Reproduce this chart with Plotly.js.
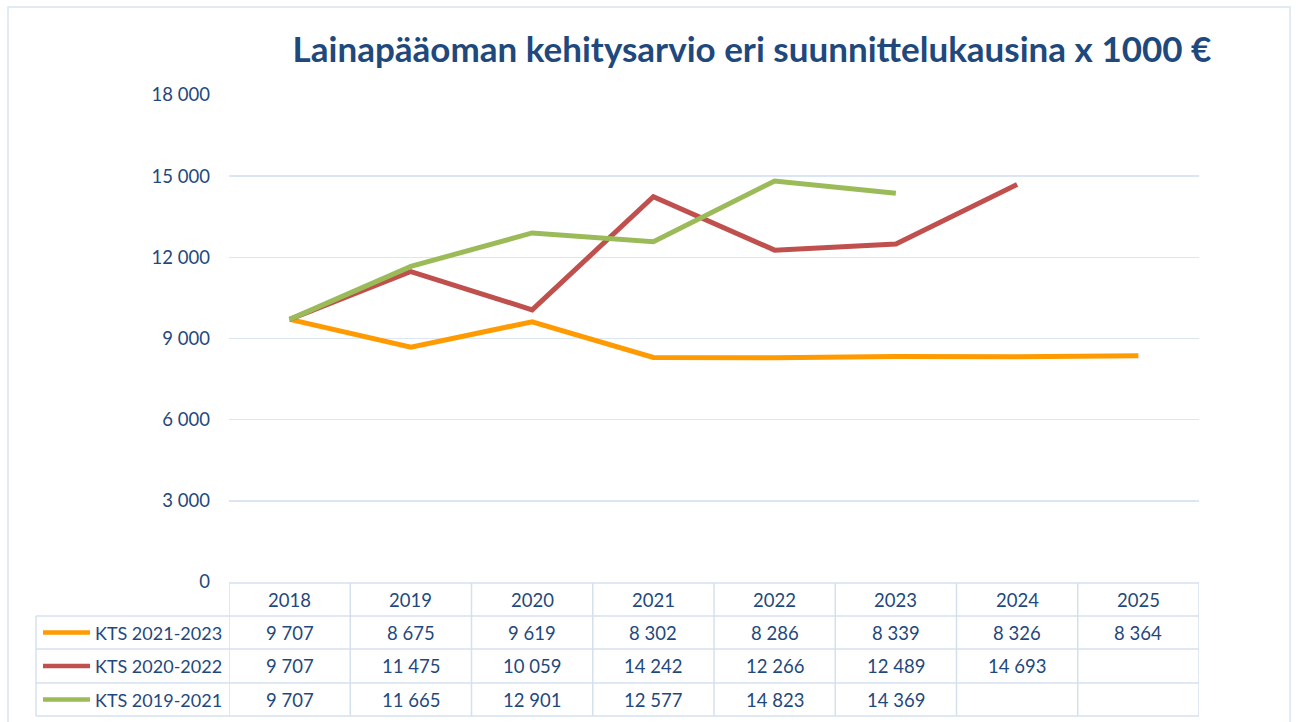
<!DOCTYPE html>
<html>
<head>
<meta charset="utf-8">
<script src="https://cdn.plot.ly/plotly-3.0.1.min.js"></script>
<style>html,body{margin:0;padding:0;background:#fff;}#chart{width:1297px;height:722px;}</style>
</head>
<body>
<div id="chart"></div>
<script>
const years = ['2018','2019','2020','2021','2022','2023','2024','2025'];
const seriesNames = ['KTS 2021-2023','KTS 2020-2022','KTS 2019-2021'];
const kts2021 = [9707, 8675, 9619, 8302, 8286, 8339, 8326, 8364];
const kts2020 = [9707, 11475, 10059, 14242, 12266, 12489, 14693];
const kts2019 = [9707, 11665, 12901, 12577, 14823, 14369];
const yTicks = [0, 3000, 6000, 9000, 12000, 15000, 18000];
const colors = ['#FF9A00', '#C0504D', '#9BBB59'];

const W = 1297, H = 722;
const M = {l: 229, r: 98, t: 95, b: 140};
const PW = W - M.l - M.r, PH = H - M.t - M.b;
const px2x = X => (X - M.l) / PW;
const px2y = Y => (H - M.b - Y) / PH;

const fmt = v => String(v).replace(/\B(?=(\d{3})+(?!\d))/g, ' ');
const txtColor = '#1F497D';
const gridColor = '#DCE6F2';
const font = 'Lato, "Open Sans", sans-serif';
const numSize = 18.5;

const allSeries = [kts2021, kts2020, kts2019];
const traces = allSeries.map((vals, i) => ({
  type: 'scatter', mode: 'lines',
  x: years.slice(0, vals.length), y: vals,
  name: seriesNames[i],
  line: {color: colors[i], width: 5},
  showlegend: false, hoverinfo: 'x+y'
}));
const shapes = [];
const annotations = [];

// outer border
shapes.push({type: 'rect', xref: 'paper', yref: 'paper',
  x0: px2x(8), x1: px2x(1290), y0: px2y(730), y1: px2y(7),
  line: {color: '#D9E3F0', width: 1.5}, layer: 'below'});

// table geometry (pixels)
const rowTops = [583, 616, 649, 683, 716];
const colEdges = [];
for (let i = 0; i <= years.length; i++) colEdges.push(-0.5 + i);
const tblLeft = 36;
const lineCol = '#D5E0EF';

rowTops.forEach((Y, idx) => {
  shapes.push({type: 'line', xref: 'paper', yref: 'paper',
    x0: idx === 0 ? 0 : px2x(tblLeft), x1: 1, y0: px2y(Y), y1: px2y(Y),
    line: {color: lineCol, width: 1.5}});
});
colEdges.forEach(c => {
  shapes.push({type: 'line', xref: 'x', yref: 'paper',
    x0: c, x1: c, y0: px2y(rowTops[0]), y1: px2y(rowTops[4]),
    line: {color: lineCol, width: 1.5}});
});
shapes.push({type: 'line', xref: 'paper', yref: 'paper',
  x0: px2x(tblLeft), x1: px2x(tblLeft), y0: px2y(rowTops[1]), y1: px2y(rowTops[4]),
  line: {color: lineCol, width: 1.5}});

years.forEach((yr, j) => {
  annotations.push({xref: 'x', yref: 'paper', x: j, y: px2y((rowTops[0] + rowTops[1]) / 2),
    text: yr, showarrow: false, font: {family: font, size: numSize, color: txtColor},
    xanchor: 'center', yanchor: 'middle'});
});

allSeries.forEach((vals, i) => {
  const yc = px2y((rowTops[i + 1] + rowTops[i + 2]) / 2);
  shapes.push({type: 'line', xref: 'paper', yref: 'paper',
    x0: px2x(43), x1: px2x(90), y0: yc, y1: yc,
    line: {color: colors[i], width: 4.5}});
  annotations.push({xref: 'paper', yref: 'paper', x: px2x(93), y: yc,
    text: seriesNames[i], showarrow: false, xanchor: 'left', yanchor: 'middle',
    font: {family: font, size: 18, color: txtColor}});
  vals.forEach((v, j) => {
    annotations.push({xref: 'x', yref: 'paper', x: j, y: yc, text: fmt(v),
      showarrow: false, xanchor: 'center', yanchor: 'middle',
      font: {family: font, size: numSize, color: txtColor}});
  });
});

const layout = {
  width: W, height: H,
  margin: M,
  paper_bgcolor: '#ffffff', plot_bgcolor: '#ffffff',
  title: {text: 'Lainapääoman kehitysarvio eri suunnittelukausina x 1000 €',
    font: {family: font, size: 35, color: txtColor, weight: 700},
    x: 752 / W, xanchor: 'center', xref: 'container',
    y: 1 - 50 / H, yanchor: 'middle', yref: 'container'},
  xaxis: {type: 'category', categoryarray: years, categoryorder: 'array',
    range: [-0.5, 7.5], showticklabels: false, showgrid: false, zeroline: false,
    showline: false, ticks: '', fixedrange: true},
  yaxis: {range: [0, 18000], tickvals: yTicks, ticktext: yTicks.map(fmt),
    showgrid: true, gridcolor: gridColor, gridwidth: 1.5, zeroline: false,
    showline: false, ticks: '', ticklabelstandoff: 18,
    tickfont: {family: font, size: numSize, color: txtColor}, fixedrange: true},
  shapes: shapes,
  annotations: annotations,
  showlegend: false
};

Plotly.newPlot('chart', traces, layout, {displayModeBar: false, staticPlot: true});
</script>
</body>
</html>
